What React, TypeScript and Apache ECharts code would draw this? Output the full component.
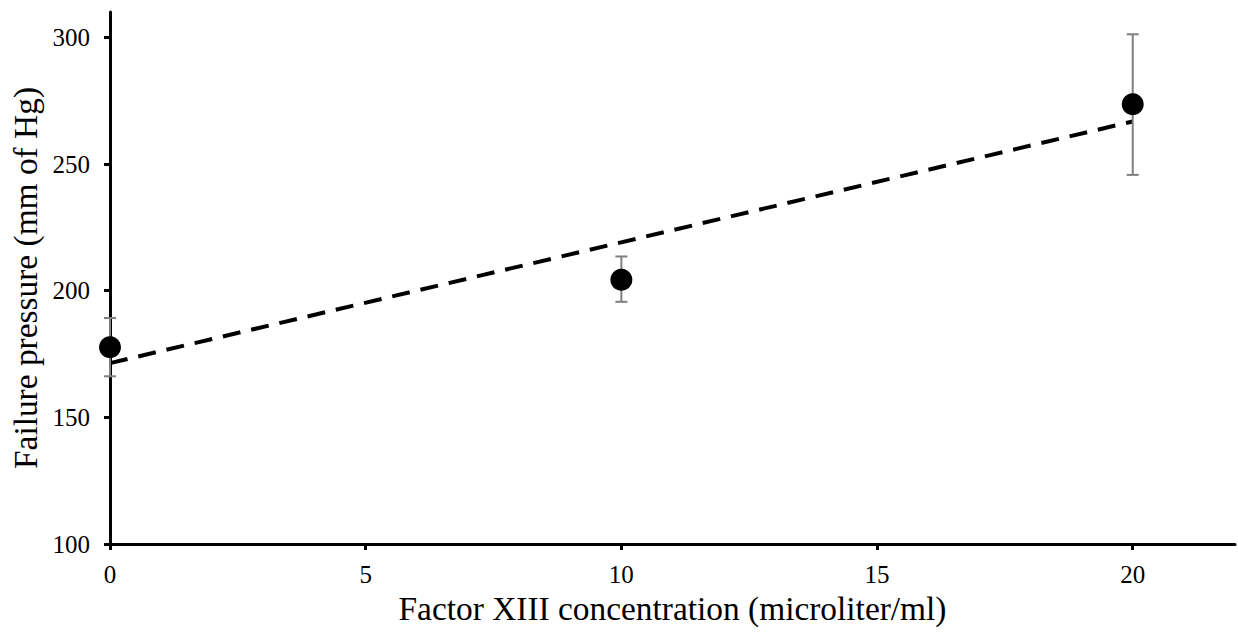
import React, { useEffect, useRef } from "react";
import * as echarts from "echarts";

// Factor XIII concentration (microliter/ml)
const concentrations = [0, 10, 20];
// Mean failure pressure (mm of Hg)
const meanPressure = [177.7, 204.3, 273.6];
// Error bar bounds
const errLow = [166.2, 195.6, 245.7];
const errHigh = [189.2, 213.5, 301.2];
// Linear trendline end points
const trendX = [0, 20];
const trendY = [171.4, 266.8];

const xTicks = [0, 5, 10, 15, 20];
const yTicks = [100, 150, 200, 250, 300];

const FONT = '"Liberation Serif", "Times New Roman", serif';

export default function App() {
  const ref = useRef<HTMLDivElement>(null);

  useEffect(() => {
    if (!ref.current) return;
    const chart = echarts.init(ref.current, undefined, { renderer: "svg" });

    const errData = concentrations.map((x, i) => [x, errLow[i], errHigh[i]]);

    chart.setOption({
      animation: false,
      backgroundColor: "#ffffff",
      grid: {
        left: 110,
        right: 3,
        top: 12,
        bottom: 88,
        containLabel: false,
        outerBoundsMode: "none",
      },
      xAxis: {
        type: "value",
        min: 0,
        max: 22,
        interval: 5,
        name: "Factor XIII concentration (microliter/ml)",
        nameLocation: "middle",
        nameGap: 48,
        nameTextStyle: { fontFamily: FONT, fontSize: 33.4, color: "#000" },
        axisLine: { show: true, onZero: false, lineStyle: { color: "#000", width: 3 } },
        axisTick: { show: true, length: 6, lineStyle: { color: "#000", width: 3 }, customValues: xTicks },
        axisLabel: { fontFamily: FONT, fontSize: 25, color: "#000", margin: 18, customValues: xTicks },
        splitLine: { show: false },
      },
      yAxis: {
        type: "value",
        min: 100,
        max: 310,
        interval: 50,
        name: "Failure pressure (mm of Hg)",
        nameLocation: "middle",
        nameGap: 66,
        nameRotate: 90,
        nameTextStyle: { fontFamily: FONT, fontSize: 33.4, color: "#000" },
        axisLine: { show: true, onZero: false, lineStyle: { color: "#000", width: 3 } },
        axisTick: { show: true, length: 6, lineStyle: { color: "#000", width: 3 }, customValues: yTicks },
        axisLabel: { fontFamily: FONT, fontSize: 25, color: "#000", margin: 20, customValues: yTicks },
        splitLine: { show: false },
      },
      series: [
        {
          type: "line",
          data: trendX.map((x, i) => [x, trendY[i]]),
          symbol: "none",
          lineStyle: { color: "#000", width: 4, type: [18, 11], cap: "butt" },
          z: 2,
        },
        {
          type: "custom",
          data: errData,
          z: 3,
          renderItem: (params: any, api: any) => {
            const x = api.value(0);
            const lo = api.coord([x, api.value(1)]);
            const hi = api.coord([x, api.value(2)]);
            const half = 6;
            const style = { stroke: "#7f7f7f", lineWidth: 2, fill: "none" };
            return {
              type: "group",
              children: [
                { type: "line", shape: { x1: lo[0], y1: lo[1], x2: hi[0], y2: hi[1] }, style },
                { type: "line", shape: { x1: lo[0] - half, y1: lo[1], x2: lo[0] + half, y2: lo[1] }, style },
                { type: "line", shape: { x1: hi[0] - half, y1: hi[1], x2: hi[0] + half, y2: hi[1] }, style },
              ],
            };
          },
        },
        {
          type: "scatter",
          data: concentrations.map((x, i) => [x, meanPressure[i]]),
          symbol: "circle",
          symbolSize: 22,
          itemStyle: { color: "#000", opacity: 1 },
          z: 4,
        },
      ],
    });

    return () => chart.dispose();
  }, []);

  return (
    <div
      ref={ref}
      style={{ position: "absolute", left: 0, top: 0, width: 1238, height: 632 }}
    />
  );
}
